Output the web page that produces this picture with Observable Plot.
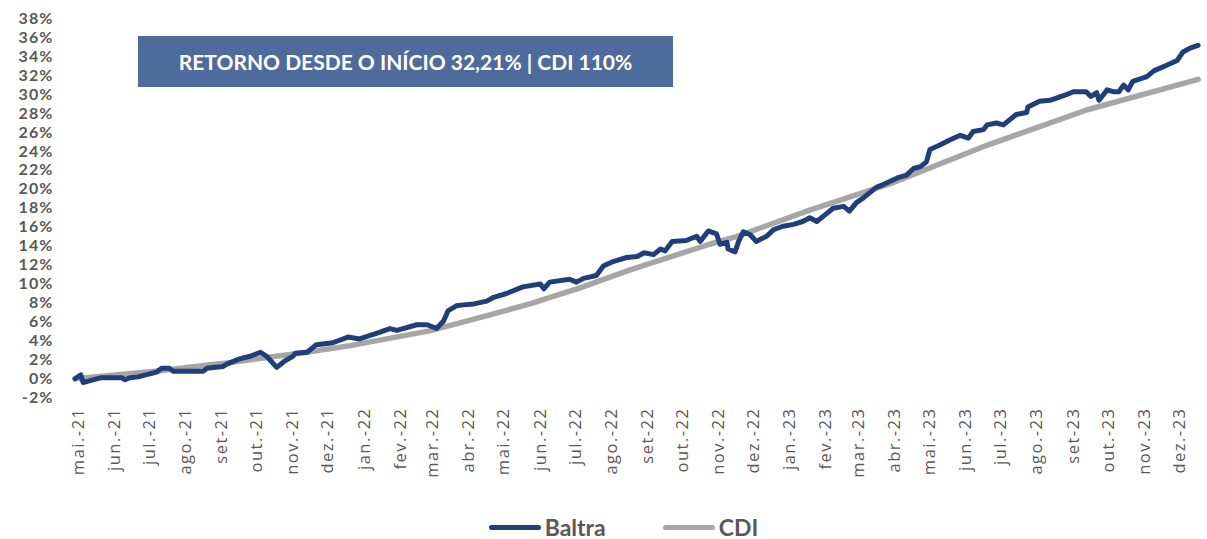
<!DOCTYPE html>
<html>
<head>
<meta charset="utf-8">
<script src="https://cdn.jsdelivr.net/npm/d3@7"></script>
<script src="https://cdn.jsdelivr.net/npm/@observablehq/plot@0.6"></script>
<style>
  html, body { margin: 0; padding: 0; background: #fff; }
  #wrap { position: relative; width: 1207px; height: 539px; }
  #title {
    position: absolute; left: 138px; top: 36px; width: 535px; height: 51px;
    background: #4E6B9C; color: #fff; font-family: Lato, "Open Sans", sans-serif;
    font-weight: 700; font-size: 21px; display: flex; align-items: center; justify-content: center;
  }
  #legend {
    position: absolute; left: 40px; top: 510px; width: 1167px; height: 34px;
    display: flex; align-items: center; justify-content: center; gap: 57px;
    font-family: Lato, "Open Sans", sans-serif; font-weight: 700; font-size: 23px; color: #595959;
  }
  .item { display: flex; align-items: center; }
  .sw { width: 52px; height: 5px; border-radius: 3px; margin-right: 4px; }
  #chart svg g[aria-label="x-axis tick label"] text { font-family: "Open Sans", sans-serif; letter-spacing: 1.5px; }
  #chart svg g[aria-label="y-axis tick label"] text { font-family: Lato, sans-serif; font-weight: 700; letter-spacing: 1.1px; }
</style>
</head>
<body>
<div id="wrap">
  <div id="chart"></div>
  <div id="title">RETORNO DESDE O INÍCIO 32,21% | CDI 110%</div>
  <div id="legend"></div>
</div>
<script>
const seriesNames = ["Baltra", "CDI"];
const seriesColors = ["#1F3E7C", "#A6A6A6"];

const monthLabels = ["mai.-21","jun.-21","jul.-21","ago.-21","set-21","out.-21","nov.-21","dez.-21",
  "jan.-22","fev.-22","mar.-22","abr.-22","mai.-22","jun.-22","jul.-22","ago.-22","set-22","out.-22","nov.-22","dez.-22",
  "jan.-23","fev.-23","mar.-23","abr.-23","mai.-23","jun.-23","jul.-23","ago.-23","set-23","out.-23","nov.-23","dez.-23"];
const firstMonth = "2021-05-01";

const yTicks = [-2,0,2,4,6,8,10,12,14,16,18,20,22,24,26,28,30,32,34,36,38];

const baltra = [
["2021-04-28",0.0],["2021-05-03",0.4],["2021-05-05",-0.4],["2021-05-14",-0.1],["2021-05-20",0.1],
["2021-06-07",0.1],["2021-06-10",-0.1],["2021-06-14",0.1],["2021-06-21",0.2],["2021-07-07",0.7],
["2021-07-11",1.1],["2021-07-18",1.1],["2021-07-21",0.8],["2021-08-16",0.8],["2021-08-19",1.1],
["2021-09-02",1.3],["2021-09-06",1.6],["2021-09-16",2.1],["2021-09-26",2.4],["2021-10-04",2.8],
["2021-10-09",2.4],["2021-10-18",1.2],["2021-10-24",1.8],["2021-11-01",2.4],["2021-11-03",2.7],
["2021-11-13",2.8],["2021-11-21",3.6],["2021-12-05",3.8],["2021-12-18",4.4],["2021-12-28",4.2],
["2022-01-14",4.9],["2022-01-23",5.3],["2022-01-29",5.1],["2022-02-15",5.7],["2022-02-24",5.7],
["2022-03-04",5.3],["2022-03-10",6.1],["2022-03-14",7.2],["2022-03-21",7.7],["2022-03-27",7.8],
["2022-04-05",7.9],["2022-04-16",8.2],["2022-04-22",8.6],["2022-05-03",9.0],["2022-05-17",9.7],
["2022-06-01",10.0],["2022-06-04",9.5],["2022-06-09",10.2],["2022-06-26",10.5],["2022-07-02",10.2],
["2022-07-08",10.6],["2022-07-19",10.9],["2022-07-25",11.9],["2022-08-03",12.4],["2022-08-14",12.8],
["2022-08-23",12.9],["2022-08-29",13.3],["2022-09-06",13.1],["2022-09-12",13.7],["2022-09-16",13.5],
["2022-09-22",14.5],["2022-10-04",14.6],["2022-10-13",15.05],["2022-10-16",14.5],["2022-10-23",15.6],
["2022-10-30",15.3],["2022-11-02",14.2],["2022-11-08",14.4],["2022-11-09",13.7],["2022-11-15",13.4],
["2022-11-18",14.5],["2022-11-22",15.5],["2022-11-28",15.2],["2022-12-03",14.5],["2022-12-12",15.05],
["2022-12-18",15.75],["2022-12-26",16.1],["2023-01-04",16.3],["2023-01-12",16.6],["2023-01-18",17.0],
["2023-01-24",16.6],["2023-01-30",17.2],["2023-02-07",18.0],["2023-02-16",18.2],["2023-02-21",17.7],
["2023-02-27",18.6],["2023-03-05",19.1],["2023-03-16",20.2],["2023-03-22",20.5],["2023-04-03",21.2],
["2023-04-11",21.5],["2023-04-17",22.2],["2023-04-23",22.4],["2023-04-28",22.9],["2023-05-01",24.2],
["2023-05-10",24.7],["2023-05-18",25.2],["2023-05-27",25.7],["2023-06-03",25.4],["2023-06-07",26.1],
["2023-06-16",26.3],["2023-06-19",26.8],["2023-06-27",27.0],["2023-07-03",26.8],["2023-07-14",27.9],
["2023-07-23",28.1],["2023-07-24",28.7],["2023-08-03",29.3],["2023-08-12",29.4],["2023-08-26",30.0],
["2023-09-01",30.3],["2023-09-12",30.3],["2023-09-16",29.8],["2023-09-21",30.2],["2023-09-23",29.4],
["2023-09-30",30.5],["2023-10-05",30.3],["2023-10-10",30.3],["2023-10-14",31.0],["2023-10-18",30.5],
["2023-10-22",31.4],["2023-11-03",31.9],["2023-11-09",32.5],["2023-11-20",33.1],["2023-11-29",33.6],
["2023-12-04",34.5],["2023-12-10",34.9],["2023-12-17",35.2]
];

const cdi = [
["2021-04-28",0.0],["2021-06-11",0.5],["2021-07-10",0.85],["2021-08-16",1.4],["2021-09-08",1.7],
["2021-10-09",2.25],["2021-11-07",2.7],["2021-12-20",3.5],["2022-02-26",5.05],["2022-04-10",6.45],
["2022-05-23",7.9],["2022-07-05",9.6],["2022-08-17",11.5],["2022-10-24",14.2],["2022-11-16",15.0],
["2023-01-18",17.8],["2023-03-28",20.6],["2023-06-20",24.7],["2023-09-13",28.4],["2023-12-17",31.6]
];

const parse = d3.utcParse("%Y-%m-%d");
const rows = [
  ...baltra.map(([d, v]) => ({date: parse(d), value: v, series: seriesNames[0]})),
  ...cdi.map(([d, v]) => ({date: parse(d), value: v, series: seriesNames[1]}))
];

const start = parse(firstMonth);
const tickDates = monthLabels.map((_, i) => d3.utcMonth.offset(start, i));
const labelMap = new Map(tickDates.map((d, i) => [+d, monthLabels[i]]));

const chart = Plot.plot({
  width: 1207,
  height: 505,
  marginLeft: 60,
  marginRight: 8,
  marginTop: 10,
  marginBottom: 108,
  style: {background: "#fff", fontFamily: "Lato, 'Open Sans', sans-serif"},
  x: {type: "utc", domain: [tickDates[0], tickDates[tickDates.length - 1]], range: [78, 1179], label: null},
  y: {domain: [-2, 38], range: [397.2, 18.3], label: null},
  color: {domain: seriesNames, range: seriesColors},
  marks: [
    Plot.axisY({ticks: yTicks, tickFormat: d => d + "%", tickSize: 0, tickPadding: 7, label: null,
      fontSize: 16, fontWeight: 700, fill: "#595959"}),
    Plot.axisX({ticks: tickDates, tickFormat: d => labelMap.get(+d), tickRotate: -90, label: null,
      tickSize: 0, tickPadding: 10, fontSize: 16.5, fill: "#595959"}),
    Plot.line(rows.filter(r => r.series === "CDI"), {x: "date", y: "value", stroke: "series", strokeWidth: 5.5, strokeLinejoin: "round", strokeLinecap: "round"}),
    Plot.line(rows.filter(r => r.series === "Baltra"), {x: "date", y: "value", stroke: "series", strokeWidth: 5, strokeLinejoin: "round", strokeLinecap: "round"})
  ]
});
document.getElementById("chart").appendChild(chart);

const legend = document.getElementById("legend");
seriesNames.forEach((name, i) => {
  const item = document.createElement("div");
  item.className = "item";
  const sw = document.createElement("div");
  sw.className = "sw";
  sw.style.background = seriesColors[i];
  const t = document.createElement("span");
  t.textContent = name;
  item.appendChild(sw); item.appendChild(t);
  legend.appendChild(item);
});
</script>
</body>
</html>
